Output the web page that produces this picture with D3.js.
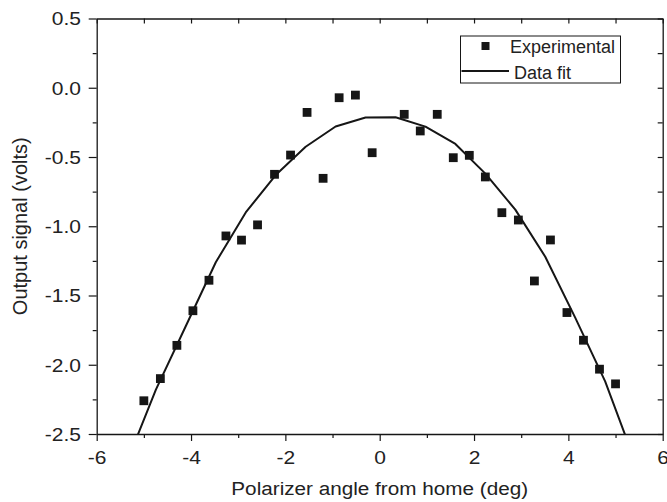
<!DOCTYPE html>
<html>
<head>
<meta charset="utf-8">
<script src="https://cdn.jsdelivr.net/npm/d3@7"></script>
<style>
  html, body { margin: 0; padding: 0; background: #fff; }
  svg { display: block; font-family: "Liberation Sans", Arial, Helvetica, sans-serif; }
</style>
</head>
<body>
<svg id="chart" width="667" height="502"></svg>
<script>
// ---- data ----
const expAngle = [-5.00, -4.65, -4.30, -3.96, -3.62, -3.26, -2.93, -2.59, -2.23, -1.89, -1.54, -1.20, -0.86, -0.515, -0.16,
                  0.52, 0.86, 1.22, 1.56, 1.90, 2.24, 2.59, 2.94, 3.28, 3.62, 3.97, 4.32, 4.66, 5.00];
const expSignal = [-2.26, -2.10, -1.86, -1.61, -1.39, -1.07, -1.10, -0.99, -0.625, -0.486, -0.178, -0.654, -0.072, -0.053, -0.469,
                   -0.192, -0.312, -0.192, -0.505, -0.488, -0.644, -0.902, -0.955, -1.395, -1.099, -1.623, -1.823, -2.032, -2.138];
const fitAngle = [-5.38, -4.745, -4.11, -3.475, -2.84, -2.205, -1.57, -0.935, -0.30, 0.335, 0.97, 1.605, 2.24, 2.875, 3.51, 4.145, 4.78, 5.415];
const fitSignal = [-2.72, -2.18, -1.72, -1.26, -0.90, -0.63, -0.426, -0.28, -0.215, -0.213, -0.281, -0.406, -0.62, -0.88, -1.22, -1.66, -2.12, -2.70];
const xMajorTicks = [-6, -4, -2, 0, 2, 4, 6];
const xMinorTicks = [-5, -3, -1, 1, 3, 5];
const yMajorTicks = [0.5, 0.0, -0.5, -1.0, -1.5, -2.0, -2.5];
const yMinorTicks = [0.25, -0.25, -0.75, -1.25, -1.75, -2.25];
const xTitle = "Polarizer angle from home (deg)";
const yTitle = "Output signal (volts)";
const legendLabels = ["Experimental", "Data fit"];

// ---- layout ----
const L = 96.7, R = 662.7, T = 18.5, B = 434;
const ink = "#161616";
const svg = d3.select("#chart");

const x = d3.scaleLinear().domain([-6, 6]).range([L, R]);
const y = d3.scaleLinear().domain([-2.5, 0.5]).range([B, T]);

const tickFs = 17.5, tickSx = 1.2;

function styleAxis(g) {
  g.selectAll("path.domain").attr("stroke", ink).attr("stroke-width", 1.3);
  g.selectAll(".tick line").attr("stroke", ink).attr("stroke-width", 1.2);
}

// minor ticks (drawn first, no labels)
svg.append("g").attr("transform", `translate(0,${B})`)
  .call(d3.axisBottom(x).tickValues(xMinorTicks).tickSize(4).tickFormat(""))
  .call(styleAxis).call(g => g.select(".domain").remove());
svg.append("g").attr("transform", `translate(${L},0)`)
  .call(d3.axisLeft(y).tickValues(yMinorTicks).tickSize(4).tickFormat(""))
  .call(styleAxis).call(g => g.select(".domain").remove());

// top axis: inward ticks at every unit
svg.append("g").attr("transform", `translate(0,${T})`)
  .call(d3.axisTop(x).tickValues(xMajorTicks.concat(xMinorTicks)).tickSize(-5).tickSizeOuter(0).tickFormat(""))
  .call(styleAxis);
// right axis: inward ticks every 0.25
svg.append("g").attr("transform", `translate(${R},0)`)
  .call(d3.axisRight(y).tickValues(yMajorTicks.concat(yMinorTicks)).tickSize(-5).tickSizeOuter(0).tickFormat(""))
  .call(styleAxis);

// bottom major axis
const gx = svg.append("g").attr("transform", `translate(0,${B})`)
  .call(d3.axisBottom(x).tickValues(xMajorTicks).tickSize(7).tickSizeOuter(0).tickFormat(d => String(d)))
  .call(styleAxis);
gx.selectAll(".tick text")
  .attr("y", 0).attr("dy", null)
  .attr("transform", `translate(0,30) scale(${tickSx},1)`)
  .attr("font-size", tickFs).attr("fill", "#222").attr("font-family", null);

// left major axis
const gy = svg.append("g").attr("transform", `translate(${L},0)`)
  .call(d3.axisLeft(y).tickValues(yMajorTicks).tickSize(8).tickSizeOuter(0).tickFormat(d => d.toFixed(1)))
  .call(styleAxis);
gy.selectAll(".tick text")
  .attr("x", 0).attr("dy", "0.36em")
  .attr("transform", `translate(-15.7,0) scale(${tickSx},1)`)
  .attr("font-size", tickFs).attr("fill", "#222").attr("font-family", null);

svg.selectAll(".domain").raise();

// clip
svg.append("clipPath").attr("id", "plotclip")
  .append("rect").attr("x", L).attr("y", T).attr("width", R - L).attr("height", B - T);

// fit line
const fitData = fitAngle.map((a, i) => [a, fitSignal[i]]);
svg.append("path")
  .attr("clip-path", "url(#plotclip)")
  .attr("d", d3.line().x(d => x(d[0])).y(d => y(d[1]))(fitData))
  .attr("fill", "none").attr("stroke", ink).attr("stroke-width", 2).attr("stroke-linejoin", "round");

// experimental points
const sq = 8.8;
svg.append("g").selectAll("rect")
  .data(expAngle.map((a, i) => [a, expSignal[i]]))
  .join("rect")
  .attr("x", d => x(d[0]) - sq / 2).attr("y", d => y(d[1]) - sq / 2)
  .attr("width", sq).attr("height", sq).attr("fill", ink);

// axis titles
svg.append("text")
  .attr("transform", `translate(${(L + R) / 2},495) scale(1.09,1)`)
  .attr("text-anchor", "middle").attr("font-size", 19).attr("fill", "#222")
  .text(xTitle);
svg.append("text")
  .attr("transform", `translate(26.5,${(T + B) / 2}) rotate(-90)`)
  .attr("text-anchor", "middle").attr("font-size", 20).attr("fill", "#222")
  .text(yTitle);

// legend
const lg = svg.append("g");
lg.append("rect").attr("x", 460.5).attr("y", 36).attr("width", 160).attr("height", 47)
  .attr("fill", "#fff").attr("stroke", ink).attr("stroke-width", 1);
lg.append("rect").attr("x", 485.5 - 4).attr("y", 46 - 4).attr("width", 8).attr("height", 8).attr("fill", ink);
lg.append("text").attr("x", 510).attr("y", 53.3).attr("font-size", 18).attr("fill", "#222").text(legendLabels[0]);
lg.append("line").attr("x1", 461.5).attr("x2", 509).attr("y1", 71).attr("y2", 71)
  .attr("stroke", ink).attr("stroke-width", 2);
lg.append("text").attr("x", 514).attr("y", 79).attr("font-size", 18).attr("fill", "#222").text(legendLabels[1]);
</script>
</body>
</html>
